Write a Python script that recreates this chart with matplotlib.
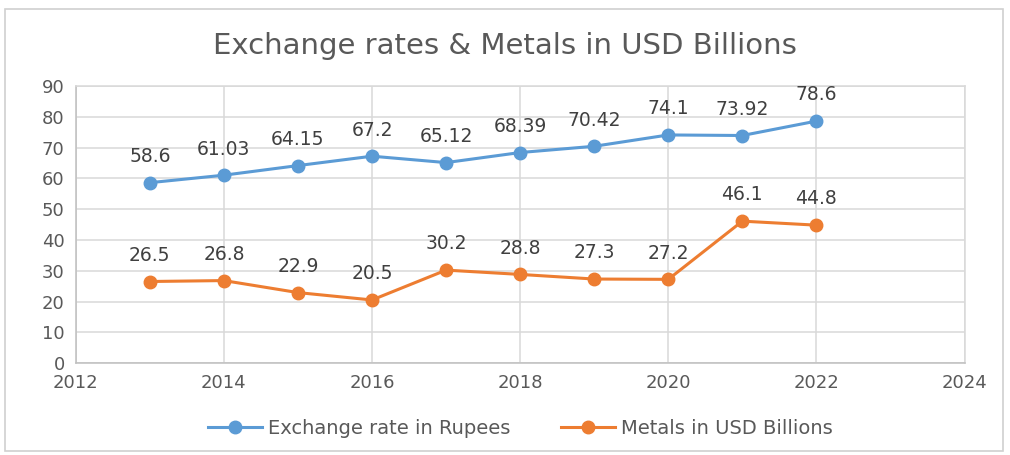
import matplotlib.pyplot as plt
from matplotlib.patches import Rectangle

plt.rcParams['font.family'] = ['DejaVu Sans']

years = [2013, 2014, 2015, 2016, 2017, 2018, 2019, 2020, 2021, 2022]
rupees = [58.6, 61.03, 64.15, 67.2, 65.12, 68.39, 70.42, 74.1, 73.92, 78.6]
metals = [26.5, 26.8, 22.9, 20.5, 30.2, 28.8, 27.3, 27.2, 46.1, 44.8]

blue = '#5B9BD5'
orange = '#ED7D31'
grid_col = '#D9D9D9'
text_col = '#595959'

fig = plt.figure(figsize=(10.1, 4.55), dpi=100)
ax = fig.add_axes([0.075, 0.202, 0.880, 0.609])

# chart frame
fig.patches.append(Rectangle((0.005, 0.008), 0.988, 0.972, transform=fig.transFigure,
                             fill=False, edgecolor='#D0D0D0', linewidth=1.2))

ax.plot(years, rupees, color=blue, lw=2.2, marker='o', ms=9, label='Exchange rate in Rupees')
ax.plot(years, metals, color=orange, lw=2.2, marker='o', ms=9, label='Metals in USD Billions')

for series in (rupees, metals):
    for x, y in zip(years, series):
        ax.annotate(f'{y:g}', (x, y), xytext=(0, 12), textcoords='offset points',
                    ha='center', va='bottom', fontsize=13.5, color='#404040')

ax.set_xlim(2012, 2024)
ax.set_ylim(0, 90)
ax.set_xticks(range(2012, 2025, 2))
ax.set_yticks(range(0, 91, 10))
ax.grid(True, color=grid_col, lw=1.1)
ax.set_axisbelow(True)
for s in ax.spines.values():
    s.set_color(grid_col)
    s.set_linewidth(1.1)
ax.spines['left'].set_color('#BFBFBF')
ax.spines['bottom'].set_color('#BFBFBF')
ax.tick_params(length=0, labelsize=13, colors=text_col, pad=8)

fig.text(0.5, 0.9, 'Exchange rates & Metals in USD Billions', ha='center', va='center',
         fontsize=21, color=text_col)

fig.legend(loc='center', bbox_to_anchor=(0.515, 0.058), ncol=2, frameon=False,
           fontsize=14, handlelength=2.8, handletextpad=0.3, columnspacing=2.6,
           labelcolor=text_col)

fig.savefig('out.png', dpi=100)
